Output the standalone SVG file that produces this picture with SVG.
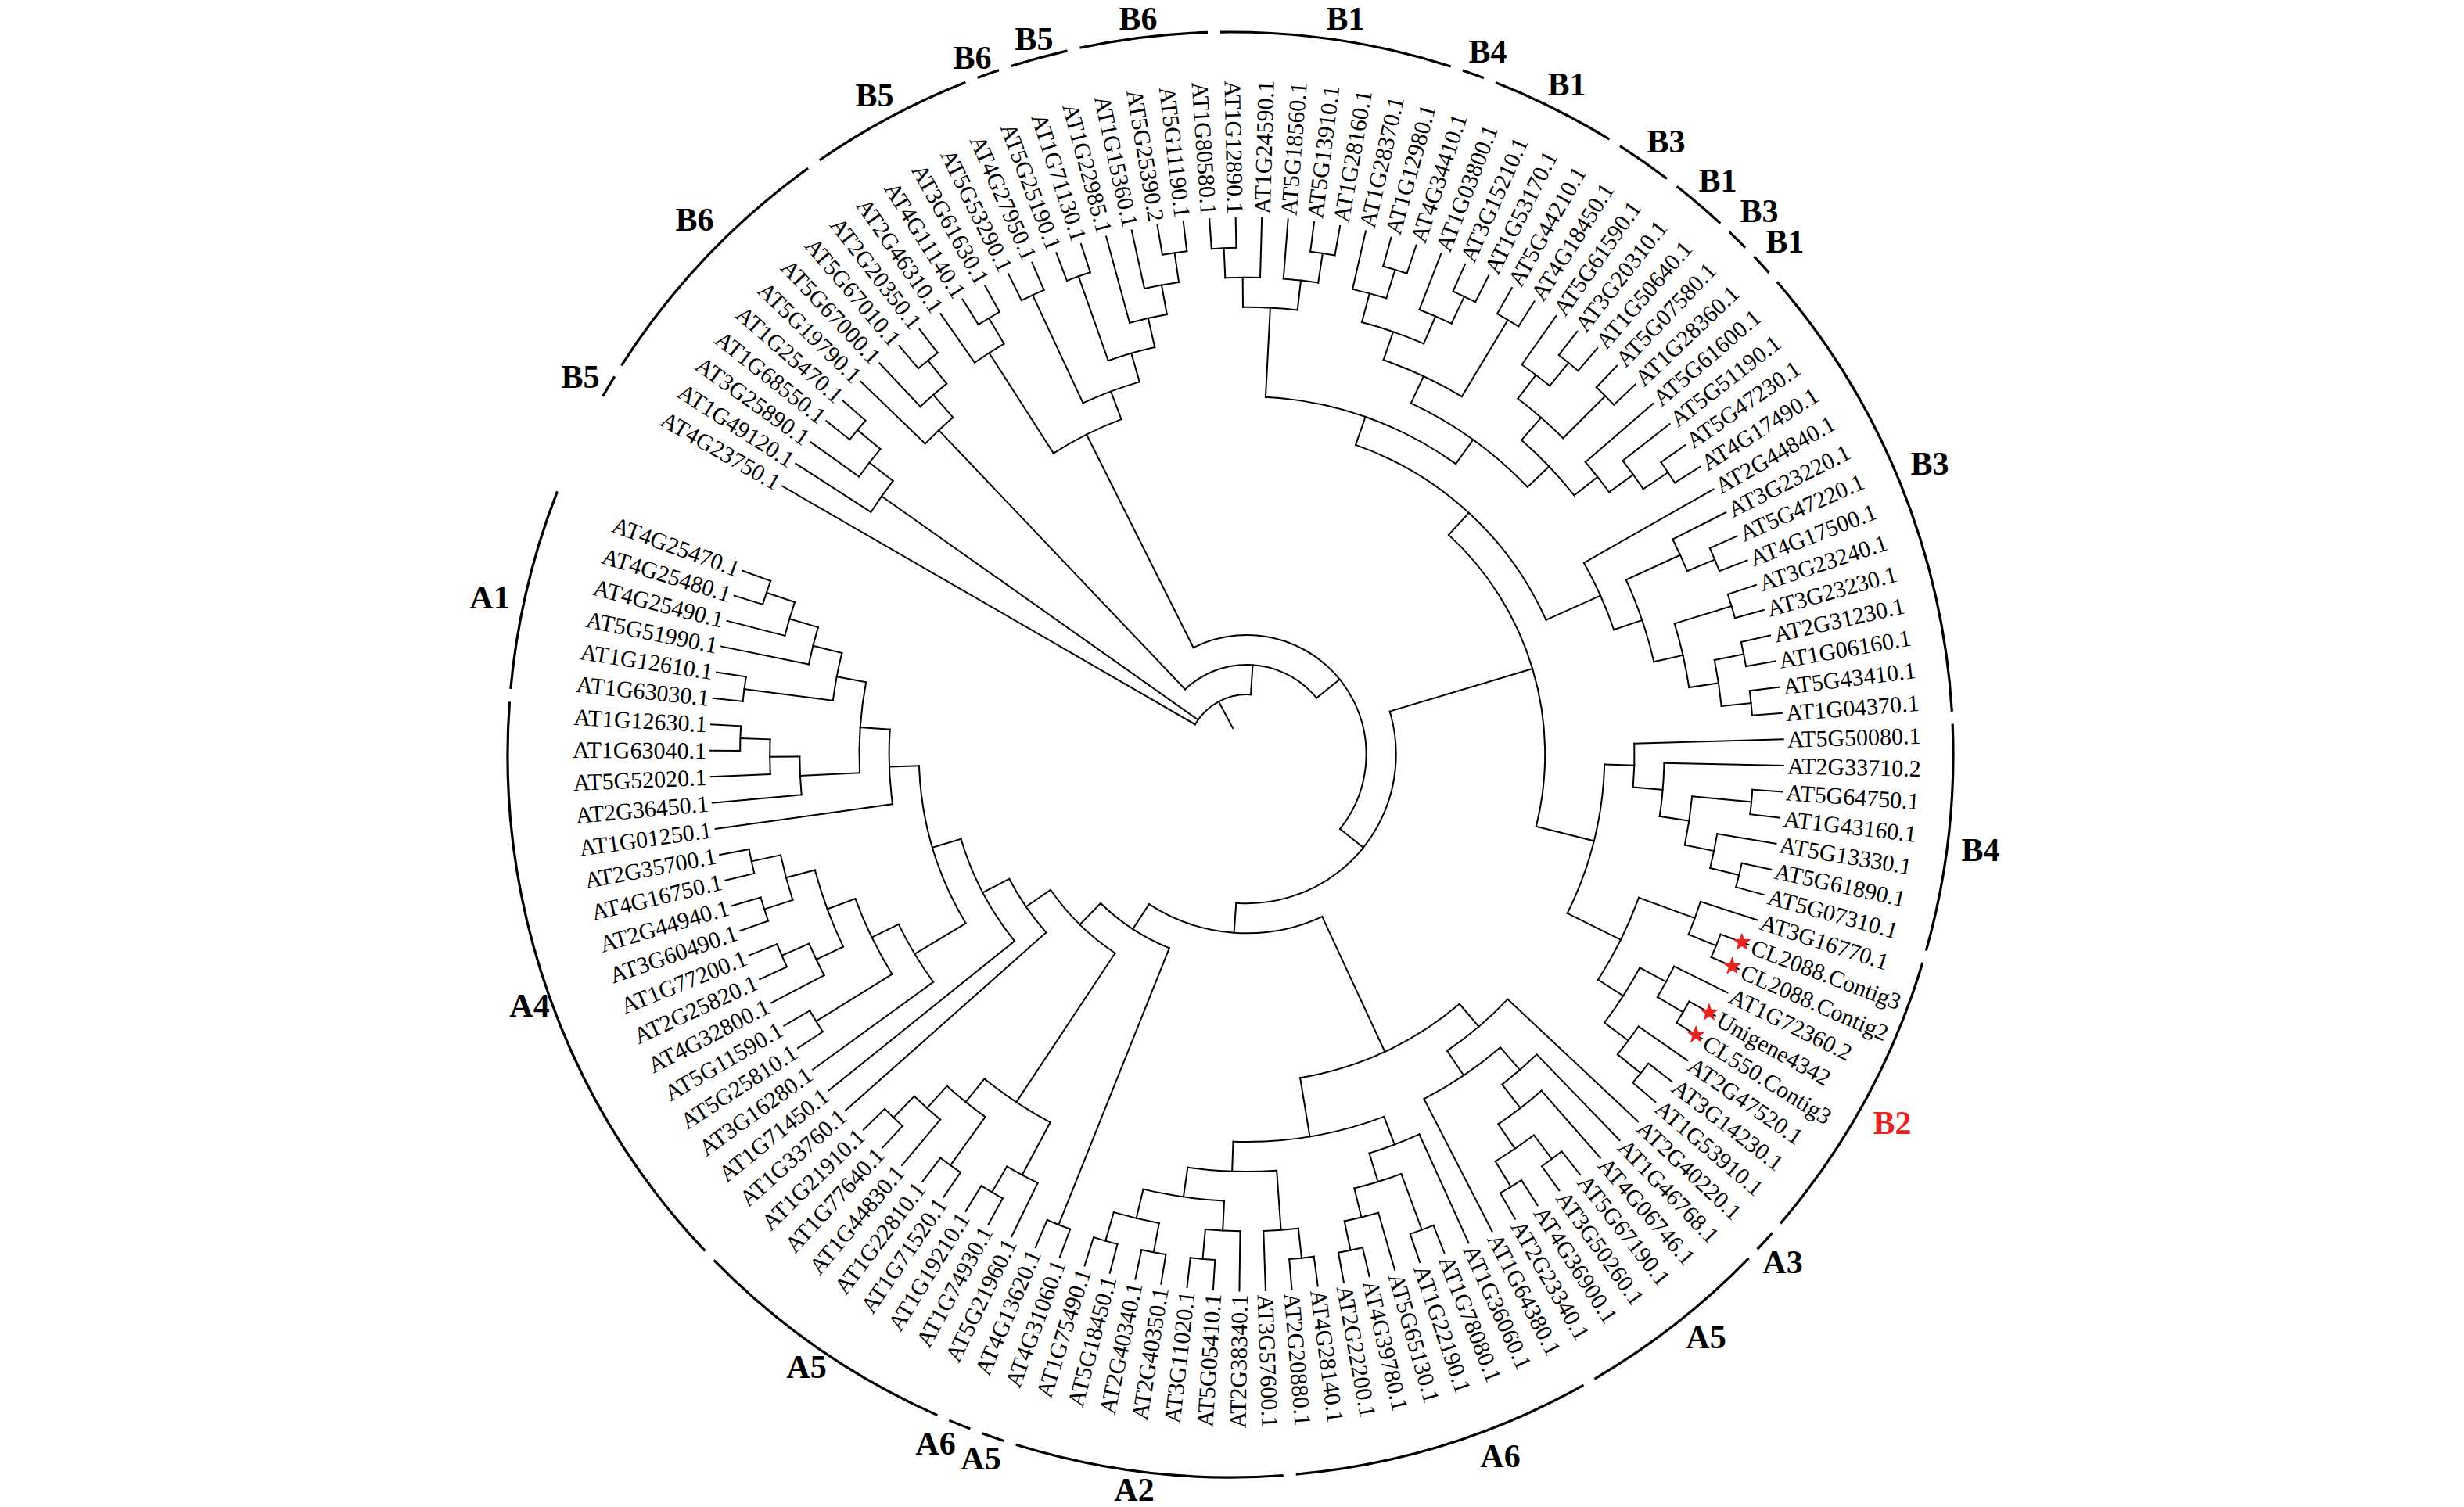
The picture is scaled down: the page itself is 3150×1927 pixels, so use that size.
<svg xmlns="http://www.w3.org/2000/svg" width="3150" height="1927" viewBox="0 0 3150 1927">
<defs>
<style>
#connectors line,#connectors circle{fill:none;stroke:#000;stroke-width:2;stroke-linecap:square}
.lf{font-family:"Liberation Serif","Times New Roman",serif;font-size:30px;fill:#000;dominant-baseline:central}
.e{text-anchor:end}
.rg{fill:none;stroke:#000;stroke-width:3.2}
.cl{font-family:"Liberation Serif","Times New Roman",serif;font-size:42px;font-weight:bold;text-anchor:middle;fill:#000}
.red{fill:#e52421}
</style>
<path id="star" d="M0,-12.5L2.94,-4.05L11.89,-3.86L4.76,1.55L7.35,10.11L0,5L-7.35,10.11L-4.76,1.55L-11.89,-3.86L-2.94,-4.05Z" fill="#e52421"/>
</defs>
<rect width="3150" height="1927" fill="#fff"/>
<g transform="translate(1594 964.5)">
<g id="connectors">
<circle r="647.9" transform="rotate(218.4)" stroke-dasharray="31.66 9999"/>
<circle r="647.9" transform="rotate(229.6)" stroke-dasharray="31.66 9999"/>
<circle r="647.9" transform="rotate(238)" stroke-dasharray="31.66 9999"/>
<circle r="647.9" transform="rotate(243.6)" stroke-dasharray="31.66 9999"/>
<circle r="647.9" transform="rotate(249.2)" stroke-dasharray="31.66 9999"/>
<circle r="647.9" transform="rotate(260.4)" stroke-dasharray="31.66 9999"/>
<circle r="647.9" transform="rotate(266)" stroke-dasharray="31.66 9999"/>
<circle r="647.9" transform="rotate(277.2)" stroke-dasharray="31.66 9999"/>
<circle r="647.9" transform="rotate(285.6)" stroke-dasharray="31.66 9999"/>
<circle r="647.9" transform="rotate(294)" stroke-dasharray="31.66 9999"/>
<circle r="647.9" transform="rotate(299.6)" stroke-dasharray="31.66 9999"/>
<circle r="647.9" transform="rotate(308)" stroke-dasharray="31.66 9999"/>
<circle r="647.9" transform="rotate(313.6)" stroke-dasharray="31.66 9999"/>
<circle r="647.9" transform="rotate(324.8)" stroke-dasharray="31.66 9999"/>
<circle r="647.9" transform="rotate(336)" stroke-dasharray="31.66 9999"/>
<circle r="647.9" transform="rotate(341.6)" stroke-dasharray="31.66 9999"/>
<circle r="647.9" transform="rotate(347.2)" stroke-dasharray="31.66 9999"/>
<circle r="647.9" transform="rotate(352.8)" stroke-dasharray="31.66 9999"/>
<circle r="647.9" transform="rotate(364)" stroke-dasharray="31.66 9999"/>
<circle r="647.9" transform="rotate(372.4)" stroke-dasharray="31.66 9999"/>
<circle r="647.9" transform="rotate(380.8)" stroke-dasharray="31.66 9999"/>
<circle r="647.9" transform="rotate(389.2)" stroke-dasharray="31.66 9999"/>
<circle r="647.9" transform="rotate(397.6)" stroke-dasharray="31.66 9999"/>
<circle r="647.9" transform="rotate(411.6)" stroke-dasharray="31.66 9999"/>
<circle r="647.9" transform="rotate(417.2)" stroke-dasharray="31.66 9999"/>
<circle r="647.9" transform="rotate(428.4)" stroke-dasharray="31.66 9999"/>
<circle r="647.9" transform="rotate(436.8)" stroke-dasharray="31.66 9999"/>
<circle r="647.9" transform="rotate(442.4)" stroke-dasharray="31.66 9999"/>
<circle r="647.9" transform="rotate(453.6)" stroke-dasharray="31.66 9999"/>
<circle r="647.9" transform="rotate(459.2)" stroke-dasharray="31.66 9999"/>
<circle r="647.9" transform="rotate(464.8)" stroke-dasharray="31.66 9999"/>
<circle r="647.9" transform="rotate(470.4)" stroke-dasharray="31.66 9999"/>
<circle r="647.9" transform="rotate(478.8)" stroke-dasharray="31.66 9999"/>
<circle r="647.9" transform="rotate(484.4)" stroke-dasharray="31.66 9999"/>
<circle r="647.9" transform="rotate(492.8)" stroke-dasharray="31.66 9999"/>
<circle r="647.9" transform="rotate(506.8)" stroke-dasharray="31.66 9999"/>
<circle r="647.9" transform="rotate(515.2)" stroke-dasharray="31.66 9999"/>
<circle r="647.9" transform="rotate(520.8)" stroke-dasharray="31.66 9999"/>
<circle r="647.9" transform="rotate(526.4)" stroke-dasharray="31.66 9999"/>
<circle r="647.9" transform="rotate(540.4)" stroke-dasharray="31.66 9999"/>
<circle r="647.9" transform="rotate(546)" stroke-dasharray="31.66 9999"/>
<circle r="647.9" transform="rotate(557.2)" stroke-dasharray="31.66 9999"/>
<circle r="609.8" transform="rotate(215.6)" stroke-dasharray="44.70 9999"/>
<circle r="609.8" transform="rotate(226.8)" stroke-dasharray="44.70 9999"/>
<circle r="609.8" transform="rotate(235.2)" stroke-dasharray="44.70 9999"/>
<circle r="609.8" transform="rotate(257.6)" stroke-dasharray="44.70 9999"/>
<circle r="609.8" transform="rotate(267.4)" stroke-dasharray="44.70 9999"/>
<circle r="609.8" transform="rotate(274.4)" stroke-dasharray="44.70 9999"/>
<circle r="609.8" transform="rotate(282.8)" stroke-dasharray="44.70 9999"/>
<circle r="609.8" transform="rotate(291.2)" stroke-dasharray="44.70 9999"/>
<circle r="609.8" transform="rotate(305.2)" stroke-dasharray="44.70 9999"/>
<circle r="609.8" transform="rotate(322)" stroke-dasharray="44.70 9999"/>
<circle r="609.8" transform="rotate(333.2)" stroke-dasharray="44.70 9999"/>
<circle r="609.8" transform="rotate(348.6)" stroke-dasharray="59.60 9999"/>
<circle r="609.8" transform="rotate(369.6)" stroke-dasharray="44.70 9999"/>
<circle r="609.8" transform="rotate(378)" stroke-dasharray="44.70 9999"/>
<circle r="609.8" transform="rotate(386.4)" stroke-dasharray="44.70 9999"/>
<circle r="609.8" transform="rotate(394.8)" stroke-dasharray="44.70 9999"/>
<circle r="609.8" transform="rotate(413)" stroke-dasharray="59.60 9999"/>
<circle r="609.8" transform="rotate(434)" stroke-dasharray="44.70 9999"/>
<circle r="609.8" transform="rotate(443.8)" stroke-dasharray="44.70 9999"/>
<circle r="609.8" transform="rotate(450.8)" stroke-dasharray="44.70 9999"/>
<circle r="609.8" transform="rotate(460.6)" stroke-dasharray="59.60 9999"/>
<circle r="609.8" transform="rotate(476)" stroke-dasharray="44.70 9999"/>
<circle r="609.8" transform="rotate(490)" stroke-dasharray="44.70 9999"/>
<circle r="609.8" transform="rotate(512.4)" stroke-dasharray="44.70 9999"/>
<circle r="609.8" transform="rotate(522.2)" stroke-dasharray="59.60 9999"/>
<circle r="609.8" transform="rotate(537.6)" stroke-dasharray="44.70 9999"/>
<circle r="609.8" transform="rotate(554.4)" stroke-dasharray="44.70 9999"/>
<circle r="571.7" transform="rotate(212.8)" stroke-dasharray="48.89 9999"/>
<circle r="571.7" transform="rotate(224)" stroke-dasharray="48.89 9999"/>
<circle r="571.7" transform="rotate(254.8)" stroke-dasharray="48.89 9999"/>
<circle r="571.7" transform="rotate(269.5)" stroke-dasharray="69.85 9999"/>
<circle r="571.7" transform="rotate(284.9)" stroke-dasharray="83.82 9999"/>
<circle r="571.7" transform="rotate(307.3)" stroke-dasharray="76.83 9999"/>
<circle r="571.7" transform="rotate(319.2)" stroke-dasharray="48.89 9999"/>
<circle r="571.7" transform="rotate(343)" stroke-dasharray="83.82 9999"/>
<circle r="571.7" transform="rotate(365.4)" stroke-dasharray="62.86 9999"/>
<circle r="571.7" transform="rotate(388.5)" stroke-dasharray="83.82 9999"/>
<circle r="571.7" transform="rotate(408.8)" stroke-dasharray="69.85 9999"/>
<circle r="571.7" transform="rotate(429.8)" stroke-dasharray="62.86 9999"/>
<circle r="571.7" transform="rotate(452.9)" stroke-dasharray="104.77 9999"/>
<circle r="571.7" transform="rotate(485.8)" stroke-dasharray="62.86 9999"/>
<circle r="571.7" transform="rotate(514.5)" stroke-dasharray="104.77 9999"/>
<circle r="571.7" transform="rotate(534.8)" stroke-dasharray="48.89 9999"/>
<circle r="571.7" transform="rotate(551.6)" stroke-dasharray="48.89 9999"/>
<circle r="533.6" transform="rotate(250.6)" stroke-dasharray="61.93 9999"/>
<circle r="533.6" transform="rotate(289.1)" stroke-dasharray="110.82 9999"/>
<circle r="533.6" transform="rotate(311.15)" stroke-dasharray="97.79 9999"/>
<circle r="533.6" transform="rotate(335.3)" stroke-dasharray="110.82 9999"/>
<circle r="533.6" transform="rotate(361.2)" stroke-dasharray="68.45 9999"/>
<circle r="533.6" transform="rotate(380.1)" stroke-dasharray="117.34 9999"/>
<circle r="533.6" transform="rotate(406)" stroke-dasharray="58.67 9999"/>
<circle r="533.6" transform="rotate(425.6)" stroke-dasharray="68.45 9999"/>
<circle r="533.6" transform="rotate(445.9)" stroke-dasharray="114.08 9999"/>
<circle r="533.6" transform="rotate(478.1)" stroke-dasharray="101.05 9999"/>
<circle r="533.6" transform="rotate(508.2)" stroke-dasharray="107.57 9999"/>
<circle r="533.6" transform="rotate(547.4)" stroke-dasharray="61.93 9999"/>
<circle r="495.5" transform="rotate(245)" stroke-dasharray="77.18 9999"/>
<circle r="495.5" transform="rotate(295.05)" stroke-dasharray="184.63 9999"/>
<circle r="495.5" transform="rotate(330.4)" stroke-dasharray="93.83 9999"/>
<circle r="495.5" transform="rotate(358.4)" stroke-dasharray="56.00 9999"/>
<circle r="495.5" transform="rotate(409.15)" stroke-dasharray="118.05 9999"/>
<circle r="495.5" transform="rotate(429.275)" stroke-dasharray="196.74 9999"/>
<circle r="495.5" transform="rotate(504)" stroke-dasharray="86.26 9999"/>
<circle r="495.5" transform="rotate(537.25)" stroke-dasharray="116.53 9999"/>
<circle r="457.4" transform="rotate(237.3)" stroke-dasharray="97.09 9999"/>
<circle r="457.4" transform="rotate(273)" stroke-dasharray="261.24 9999"/>
<circle r="457.4" transform="rotate(361.6375)" stroke-dasharray="197.68 9999"/>
<circle r="457.4" transform="rotate(403.2)" stroke-dasharray="101.98 9999"/>
<circle r="457.4" transform="rotate(532)" stroke-dasharray="95.75 9999"/>
<circle r="419.3" transform="rotate(289.3625)" stroke-dasharray="340.01 9999"/>
<circle r="419.3" transform="rotate(409.5875)" stroke-dasharray="227.31 9999"/>
<circle r="419.3" transform="rotate(508.9875)" stroke-dasharray="212.24 9999"/>
<circle r="381.2" transform="rotate(312.594)" stroke-dasharray="408.66 9999"/>
<circle r="381.2" transform="rotate(501.2)" stroke-dasharray="148.30 9999"/>
<circle r="343.1" transform="rotate(498.4)" stroke-dasharray="83.50 9999"/>
<circle r="305" transform="rotate(483.525)" stroke-dasharray="116.29 9999"/>
<circle r="266.9" transform="rotate(471.8)" stroke-dasharray="105.50 9999"/>
<circle r="228.8" transform="rotate(425.119)" stroke-dasharray="231.62 9999"/>
<circle r="190.7" transform="rotate(343.306)" stroke-dasharray="368.79 9999"/>
<circle r="152.6" transform="rotate(243.38)" stroke-dasharray="413.65 9999"/>
<circle r="114.5" transform="rotate(226.45)" stroke-dasharray="189.01 9999"/>
<circle r="76.4" transform="rotate(210)" stroke-dasharray="84.98 9999"/>
<line transform="rotate(219.8)" x1="609.8" x2="647.9"/>
<line transform="rotate(217.7)" x1="571.7" x2="609.8"/>
<line transform="rotate(215.25)" x1="76.4" x2="571.7"/>
<line transform="rotate(231)" x1="609.8" x2="647.9"/>
<line transform="rotate(228.9)" x1="571.7" x2="609.8"/>
<line transform="rotate(226.45)" x1="114.5" x2="571.7"/>
<line transform="rotate(239.4)" x1="609.8" x2="647.9"/>
<line transform="rotate(237.3)" x1="457.4" x2="609.8"/>
<line transform="rotate(245)" x1="495.5" x2="647.9"/>
<line transform="rotate(250.6)" x1="533.6" x2="647.9"/>
<line transform="rotate(261.8)" x1="609.8" x2="647.9"/>
<line transform="rotate(259.7)" x1="571.7" x2="609.8"/>
<line transform="rotate(257.25)" x1="533.6" x2="571.7"/>
<line transform="rotate(253.925)" x1="495.5" x2="533.6"/>
<line transform="rotate(249.4625)" x1="457.4" x2="495.5"/>
<line transform="rotate(243.38)" x1="152.6" x2="457.4"/>
<line transform="rotate(267.4)" x1="609.8" x2="647.9"/>
<line transform="rotate(269.5)" x1="571.7" x2="609.8"/>
<line transform="rotate(278.6)" x1="609.8" x2="647.9"/>
<line transform="rotate(276.5)" x1="571.7" x2="609.8"/>
<line transform="rotate(273)" x1="457.4" x2="571.7"/>
<line transform="rotate(287)" x1="609.8" x2="647.9"/>
<line transform="rotate(284.9)" x1="571.7" x2="609.8"/>
<line transform="rotate(295.4)" x1="609.8" x2="647.9"/>
<line transform="rotate(293.3)" x1="571.7" x2="609.8"/>
<line transform="rotate(289.1)" x1="533.6" x2="571.7"/>
<line transform="rotate(301)" x1="533.6" x2="647.9"/>
<line transform="rotate(295.05)" x1="495.5" x2="533.6"/>
<line transform="rotate(309.4)" x1="609.8" x2="647.9"/>
<line transform="rotate(307.3)" x1="571.7" x2="609.8"/>
<line transform="rotate(315)" x1="571.7" x2="647.9"/>
<line transform="rotate(311.15)" x1="533.6" x2="571.7"/>
<line transform="rotate(326.2)" x1="609.8" x2="647.9"/>
<line transform="rotate(324.1)" x1="571.7" x2="609.8"/>
<line transform="rotate(321.65)" x1="533.6" x2="571.7"/>
<line transform="rotate(316.4)" x1="495.5" x2="533.6"/>
<line transform="rotate(305.725)" x1="457.4" x2="495.5"/>
<line transform="rotate(289.3625)" x1="419.3" x2="457.4"/>
<line transform="rotate(337.4)" x1="609.8" x2="647.9"/>
<line transform="rotate(335.3)" x1="533.6" x2="609.8"/>
<line transform="rotate(343)" x1="571.7" x2="647.9"/>
<line transform="rotate(348.6)" x1="609.8" x2="647.9"/>
<line transform="rotate(354.2)" x1="609.8" x2="647.9"/>
<line transform="rotate(351.4)" x1="571.7" x2="609.8"/>
<line transform="rotate(347.2)" x1="533.6" x2="571.7"/>
<line transform="rotate(341.25)" x1="495.5" x2="533.6"/>
<line transform="rotate(335.825)" x1="419.3" x2="495.5"/>
<line transform="rotate(312.594)" x1="381.2" x2="419.3"/>
<line transform="rotate(365.4)" x1="571.7" x2="647.9"/>
<line transform="rotate(373.8)" x1="609.8" x2="647.9"/>
<line transform="rotate(371.7)" x1="571.7" x2="609.8"/>
<line transform="rotate(368.55)" x1="533.6" x2="571.7"/>
<line transform="rotate(364.875)" x1="495.5" x2="533.6"/>
<line transform="rotate(361.6375)" x1="457.4" x2="495.5"/>
<line transform="rotate(382.2)" x1="609.8" x2="647.9"/>
<line transform="rotate(380.1)" x1="533.6" x2="609.8"/>
<line transform="rotate(390.6)" x1="609.8" x2="647.9"/>
<line transform="rotate(388.5)" x1="571.7" x2="609.8"/>
<line transform="rotate(399)" x1="609.8" x2="647.9"/>
<line transform="rotate(396.9)" x1="571.7" x2="609.8"/>
<line transform="rotate(392.7)" x1="533.6" x2="571.7"/>
<line transform="rotate(386.4)" x1="457.4" x2="533.6"/>
<line transform="rotate(374.019)" x1="381.2" x2="457.4"/>
<line transform="rotate(343.306)" x1="190.7" x2="381.2"/>
<line transform="rotate(413)" x1="609.8" x2="647.9"/>
<line transform="rotate(418.6)" x1="609.8" x2="647.9"/>
<line transform="rotate(415.8)" x1="571.7" x2="609.8"/>
<line transform="rotate(412.3)" x1="533.6" x2="571.7"/>
<line transform="rotate(409.15)" x1="495.5" x2="533.6"/>
<line transform="rotate(415.975)" x1="457.4" x2="495.5"/>
<line transform="rotate(409.5875)" x1="419.3" x2="457.4"/>
<line transform="rotate(429.8)" x1="571.7" x2="647.9"/>
<line transform="rotate(438.2)" x1="609.8" x2="647.9"/>
<line transform="rotate(436.1)" x1="571.7" x2="609.8"/>
<line transform="rotate(432.95)" x1="533.6" x2="571.7"/>
<line transform="rotate(429.275)" x1="495.5" x2="533.6"/>
<line transform="rotate(443.8)" x1="609.8" x2="647.9"/>
<line transform="rotate(445.9)" x1="533.6" x2="609.8"/>
<line transform="rotate(455)" x1="609.8" x2="647.9"/>
<line transform="rotate(452.9)" x1="571.7" x2="609.8"/>
<line transform="rotate(460.6)" x1="609.8" x2="647.9"/>
<line transform="rotate(466.2)" x1="609.8" x2="647.9"/>
<line transform="rotate(463.4)" x1="571.7" x2="609.8"/>
<line transform="rotate(458.15)" x1="533.6" x2="571.7"/>
<line transform="rotate(452.025)" x1="495.5" x2="533.6"/>
<line transform="rotate(440.65)" x1="419.3" x2="495.5"/>
<line transform="rotate(425.119)" x1="228.8" x2="419.3"/>
<line transform="rotate(471.8)" x1="266.9" x2="647.9"/>
<line transform="rotate(480.2)" x1="609.8" x2="647.9"/>
<line transform="rotate(478.1)" x1="533.6" x2="609.8"/>
<line transform="rotate(485.8)" x1="571.7" x2="647.9"/>
<line transform="rotate(494.2)" x1="609.8" x2="647.9"/>
<line transform="rotate(492.1)" x1="571.7" x2="609.8"/>
<line transform="rotate(488.95)" x1="533.6" x2="571.7"/>
<line transform="rotate(483.525)" x1="305" x2="533.6"/>
<line transform="rotate(508.2)" x1="533.6" x2="647.9"/>
<line transform="rotate(516.6)" x1="609.8" x2="647.9"/>
<line transform="rotate(514.5)" x1="571.7" x2="609.8"/>
<line transform="rotate(522.2)" x1="609.8" x2="647.9"/>
<line transform="rotate(527.8)" x1="609.8" x2="647.9"/>
<line transform="rotate(525)" x1="571.7" x2="609.8"/>
<line transform="rotate(519.75)" x1="533.6" x2="571.7"/>
<line transform="rotate(513.975)" x1="495.5" x2="533.6"/>
<line transform="rotate(508.9875)" x1="419.3" x2="495.5"/>
<line transform="rotate(541.8)" x1="609.8" x2="647.9"/>
<line transform="rotate(539.7)" x1="571.7" x2="609.8"/>
<line transform="rotate(537.25)" x1="495.5" x2="571.7"/>
<line transform="rotate(547.4)" x1="533.6" x2="647.9"/>
<line transform="rotate(558.6)" x1="609.8" x2="647.9"/>
<line transform="rotate(556.5)" x1="571.7" x2="609.8"/>
<line transform="rotate(554.05)" x1="533.6" x2="571.7"/>
<line transform="rotate(550.725)" x1="495.5" x2="533.6"/>
<line transform="rotate(543.9875)" x1="457.4" x2="495.5"/>
<line transform="rotate(537.994)" x1="419.3" x2="457.4"/>
<line transform="rotate(523.491)" x1="381.2" x2="419.3"/>
<line transform="rotate(512.345)" x1="343.1" x2="381.2"/>
<line transform="rotate(505.373)" x1="305" x2="343.1"/>
<line transform="rotate(494.449)" x1="266.9" x2="305"/>
<line transform="rotate(483.124)" x1="228.8" x2="266.9"/>
<line transform="rotate(454.122)" x1="190.7" x2="228.8"/>
<line transform="rotate(398.714)" x1="152.6" x2="190.7"/>
<line transform="rotate(321.047)" x1="114.5" x2="152.6"/>
<line transform="rotate(273.749)" x1="76.4" x2="114.5"/>
<line transform="rotate(241.874)" x1="38" x2="76.4"/>
<line transform="rotate(210)" x1="76.4" x2="686"/>
<line transform="rotate(212.8)" x1="571.7" x2="686"/>
<line transform="rotate(215.6)" x1="609.8" x2="686"/>
<line transform="rotate(218.4)" x1="647.9" x2="686"/>
<line transform="rotate(221.2)" x1="647.9" x2="686"/>
<line transform="rotate(224)" x1="571.7" x2="686"/>
<line transform="rotate(226.8)" x1="609.8" x2="686"/>
<line transform="rotate(229.6)" x1="647.9" x2="686"/>
<line transform="rotate(232.4)" x1="647.9" x2="686"/>
<line transform="rotate(235.2)" x1="609.8" x2="686"/>
<line transform="rotate(238)" x1="647.9" x2="686"/>
<line transform="rotate(240.8)" x1="647.9" x2="686"/>
<line transform="rotate(243.6)" x1="647.9" x2="686"/>
<line transform="rotate(246.4)" x1="647.9" x2="686"/>
<line transform="rotate(249.2)" x1="647.9" x2="686"/>
<line transform="rotate(252)" x1="647.9" x2="686"/>
<line transform="rotate(254.8)" x1="571.7" x2="686"/>
<line transform="rotate(257.6)" x1="609.8" x2="686"/>
<line transform="rotate(260.4)" x1="647.9" x2="686"/>
<line transform="rotate(263.2)" x1="647.9" x2="686"/>
<line transform="rotate(266)" x1="647.9" x2="686"/>
<line transform="rotate(268.8)" x1="647.9" x2="686"/>
<line transform="rotate(271.6)" x1="609.8" x2="686"/>
<line transform="rotate(274.4)" x1="609.8" x2="686"/>
<line transform="rotate(277.2)" x1="647.9" x2="686"/>
<line transform="rotate(280)" x1="647.9" x2="686"/>
<line transform="rotate(282.8)" x1="609.8" x2="686"/>
<line transform="rotate(285.6)" x1="647.9" x2="686"/>
<line transform="rotate(288.4)" x1="647.9" x2="686"/>
<line transform="rotate(291.2)" x1="609.8" x2="686"/>
<line transform="rotate(294)" x1="647.9" x2="686"/>
<line transform="rotate(296.8)" x1="647.9" x2="686"/>
<line transform="rotate(299.6)" x1="647.9" x2="686"/>
<line transform="rotate(302.4)" x1="647.9" x2="686"/>
<line transform="rotate(305.2)" x1="609.8" x2="686"/>
<line transform="rotate(308)" x1="647.9" x2="686"/>
<line transform="rotate(310.8)" x1="647.9" x2="686"/>
<line transform="rotate(313.6)" x1="647.9" x2="686"/>
<line transform="rotate(316.4)" x1="647.9" x2="686"/>
<line transform="rotate(319.2)" x1="571.7" x2="686"/>
<line transform="rotate(322)" x1="609.8" x2="686"/>
<line transform="rotate(324.8)" x1="647.9" x2="686"/>
<line transform="rotate(327.6)" x1="647.9" x2="686"/>
<line transform="rotate(330.4)" x1="495.5" x2="686"/>
<line transform="rotate(333.2)" x1="609.8" x2="686"/>
<line transform="rotate(336)" x1="647.9" x2="686"/>
<line transform="rotate(338.8)" x1="647.9" x2="686"/>
<line transform="rotate(341.6)" x1="647.9" x2="686"/>
<line transform="rotate(344.4)" x1="647.9" x2="686"/>
<line transform="rotate(347.2)" x1="647.9" x2="686"/>
<line transform="rotate(350)" x1="647.9" x2="686"/>
<line transform="rotate(352.8)" x1="647.9" x2="686"/>
<line transform="rotate(355.6)" x1="647.9" x2="686"/>
<line transform="rotate(358.4)" x1="495.5" x2="686"/>
<line transform="rotate(361.2)" x1="533.6" x2="686"/>
<line transform="rotate(364)" x1="647.9" x2="686"/>
<line transform="rotate(366.8)" x1="647.9" x2="686"/>
<line transform="rotate(369.6)" x1="609.8" x2="686"/>
<line transform="rotate(372.4)" x1="647.9" x2="686"/>
<line transform="rotate(375.2)" x1="647.9" x2="686"/>
<line transform="rotate(378)" x1="609.8" x2="686"/>
<line transform="rotate(380.8)" x1="647.9" x2="686"/>
<line transform="rotate(383.6)" x1="647.9" x2="686"/>
<line transform="rotate(386.4)" x1="609.8" x2="686"/>
<line transform="rotate(389.2)" x1="647.9" x2="686"/>
<line transform="rotate(392)" x1="647.9" x2="686"/>
<line transform="rotate(394.8)" x1="609.8" x2="686"/>
<line transform="rotate(397.6)" x1="647.9" x2="686"/>
<line transform="rotate(400.4)" x1="647.9" x2="686"/>
<line transform="rotate(403.2)" x1="457.4" x2="686"/>
<line transform="rotate(406)" x1="533.6" x2="686"/>
<line transform="rotate(408.8)" x1="571.7" x2="686"/>
<line transform="rotate(411.6)" x1="647.9" x2="686"/>
<line transform="rotate(414.4)" x1="647.9" x2="686"/>
<line transform="rotate(417.2)" x1="647.9" x2="686"/>
<line transform="rotate(420)" x1="647.9" x2="686"/>
<line transform="rotate(422.8)" x1="495.5" x2="686"/>
<line transform="rotate(425.6)" x1="533.6" x2="686"/>
<line transform="rotate(428.4)" x1="647.9" x2="686"/>
<line transform="rotate(431.2)" x1="647.9" x2="686"/>
<line transform="rotate(434)" x1="609.8" x2="686"/>
<line transform="rotate(436.8)" x1="647.9" x2="686"/>
<line transform="rotate(439.6)" x1="647.9" x2="686"/>
<line transform="rotate(442.4)" x1="647.9" x2="686"/>
<line transform="rotate(445.2)" x1="647.9" x2="686"/>
<line transform="rotate(448)" x1="609.8" x2="686"/>
<line transform="rotate(450.8)" x1="609.8" x2="686"/>
<line transform="rotate(453.6)" x1="647.9" x2="686"/>
<line transform="rotate(456.4)" x1="647.9" x2="686"/>
<line transform="rotate(459.2)" x1="647.9" x2="686"/>
<line transform="rotate(462)" x1="647.9" x2="686"/>
<line transform="rotate(464.8)" x1="647.9" x2="686"/>
<line transform="rotate(467.6)" x1="647.9" x2="686"/>
<line transform="rotate(470.4)" x1="647.9" x2="686"/>
<line transform="rotate(473.2)" x1="647.9" x2="686"/>
<line transform="rotate(476)" x1="609.8" x2="686"/>
<line transform="rotate(478.8)" x1="647.9" x2="686"/>
<line transform="rotate(481.6)" x1="647.9" x2="686"/>
<line transform="rotate(484.4)" x1="647.9" x2="686"/>
<line transform="rotate(487.2)" x1="647.9" x2="686"/>
<line transform="rotate(490)" x1="609.8" x2="686"/>
<line transform="rotate(492.8)" x1="647.9" x2="686"/>
<line transform="rotate(495.6)" x1="647.9" x2="686"/>
<line transform="rotate(498.4)" x1="343.1" x2="686"/>
<line transform="rotate(501.2)" x1="381.2" x2="686"/>
<line transform="rotate(504)" x1="495.5" x2="686"/>
<line transform="rotate(506.8)" x1="647.9" x2="686"/>
<line transform="rotate(509.6)" x1="647.9" x2="686"/>
<line transform="rotate(512.4)" x1="609.8" x2="686"/>
<line transform="rotate(515.2)" x1="647.9" x2="686"/>
<line transform="rotate(518)" x1="647.9" x2="686"/>
<line transform="rotate(520.8)" x1="647.9" x2="686"/>
<line transform="rotate(523.6)" x1="647.9" x2="686"/>
<line transform="rotate(526.4)" x1="647.9" x2="686"/>
<line transform="rotate(529.2)" x1="647.9" x2="686"/>
<line transform="rotate(532)" x1="457.4" x2="686"/>
<line transform="rotate(534.8)" x1="571.7" x2="686"/>
<line transform="rotate(537.6)" x1="609.8" x2="686"/>
<line transform="rotate(540.4)" x1="647.9" x2="686"/>
<line transform="rotate(543.2)" x1="647.9" x2="686"/>
<line transform="rotate(546)" x1="647.9" x2="686"/>
<line transform="rotate(548.8)" x1="647.9" x2="686"/>
<line transform="rotate(551.6)" x1="571.7" x2="686"/>
<line transform="rotate(554.4)" x1="609.8" x2="686"/>
<line transform="rotate(557.2)" x1="647.9" x2="686"/>
<line transform="rotate(560)" x1="647.9" x2="686"/>
</g>
<g id="leaves">
<g id="n1"><text class="lf e" transform="rotate(30)" x="-691">AT4G23750.1</text></g>
<g id="n2"><text class="lf e" transform="rotate(32.8)" x="-691">AT1G49120.1</text></g>
<g id="n3"><text class="lf e" transform="rotate(35.6)" x="-691">AT3G25890.1</text></g>
<g id="n4"><text class="lf e" transform="rotate(38.4)" x="-691">AT1G68550.1</text></g>
<g id="n5"><text class="lf e" transform="rotate(41.2)" x="-691">AT1G25470.1</text></g>
<g id="n6"><text class="lf e" transform="rotate(44)" x="-691">AT5G19790.1</text></g>
<g id="n7"><text class="lf e" transform="rotate(46.8)" x="-691">AT5G67000.1</text></g>
<g id="n8"><text class="lf e" transform="rotate(49.6)" x="-691">AT5G67010.1</text></g>
<g id="n9"><text class="lf e" transform="rotate(52.4)" x="-691">AT2G20350.1</text></g>
<g id="n10"><text class="lf e" transform="rotate(55.2)" x="-691">AT2G46310.1</text></g>
<g id="n11"><text class="lf e" transform="rotate(58)" x="-691">AT4G11140.1</text></g>
<g id="n12"><text class="lf e" transform="rotate(60.8)" x="-691">AT3G61630.1</text></g>
<g id="n13"><text class="lf e" transform="rotate(63.6)" x="-691">AT5G53290.1</text></g>
<g id="n14"><text class="lf e" transform="rotate(66.4)" x="-691">AT4G27950.1</text></g>
<g id="n15"><text class="lf e" transform="rotate(69.2)" x="-691">AT5G25190.1</text></g>
<g id="n16"><text class="lf e" transform="rotate(72)" x="-691">AT1G71130.1</text></g>
<g id="n17"><text class="lf e" transform="rotate(74.8)" x="-691">AT1G22985.1</text></g>
<g id="n18"><text class="lf e" transform="rotate(77.6)" x="-691">AT1G15360.1</text></g>
<g id="n19"><text class="lf e" transform="rotate(80.4)" x="-691">AT5G25390.2</text></g>
<g id="n20"><text class="lf e" transform="rotate(83.2)" x="-691">AT5G11190.1</text></g>
<g id="n21"><text class="lf e" transform="rotate(86)" x="-691">AT1G80580.1</text></g>
<g id="n22"><text class="lf e" transform="rotate(88.8)" x="-691">AT1G12890.1</text></g>
<g id="n23"><text class="lf" transform="rotate(271.6)" x="691">AT1G24590.1</text></g>
<g id="n24"><text class="lf" transform="rotate(274.4)" x="691">AT5G18560.1</text></g>
<g id="n25"><text class="lf" transform="rotate(277.2)" x="691">AT5G13910.1</text></g>
<g id="n26"><text class="lf" transform="rotate(280)" x="691">AT1G28160.1</text></g>
<g id="n27"><text class="lf" transform="rotate(282.8)" x="691">AT1G28370.1</text></g>
<g id="n28"><text class="lf" transform="rotate(285.6)" x="691">AT1G12980.1</text></g>
<g id="n29"><text class="lf" transform="rotate(288.4)" x="691">AT4G34410.1</text></g>
<g id="n30"><text class="lf" transform="rotate(291.2)" x="691">AT1G03800.1</text></g>
<g id="n31"><text class="lf" transform="rotate(294)" x="691">AT3G15210.1</text></g>
<g id="n32"><text class="lf" transform="rotate(296.8)" x="691">AT1G53170.1</text></g>
<g id="n33"><text class="lf" transform="rotate(299.6)" x="691">AT5G44210.1</text></g>
<g id="n34"><text class="lf" transform="rotate(302.4)" x="691">AT4G18450.1</text></g>
<g id="n35"><text class="lf" transform="rotate(305.2)" x="691">AT5G61590.1</text></g>
<g id="n36"><text class="lf" transform="rotate(308)" x="691">AT3G20310.1</text></g>
<g id="n37"><text class="lf" transform="rotate(310.8)" x="691">AT1G50640.1</text></g>
<g id="n38"><text class="lf" transform="rotate(313.6)" x="691">AT5G07580.1</text></g>
<g id="n39"><text class="lf" transform="rotate(316.4)" x="691">AT1G28360.1</text></g>
<g id="n40"><text class="lf" transform="rotate(319.2)" x="691">AT5G61600.1</text></g>
<g id="n41"><text class="lf" transform="rotate(322)" x="691">AT5G51190.1</text></g>
<g id="n42"><text class="lf" transform="rotate(324.8)" x="691">AT5G47230.1</text></g>
<g id="n43"><text class="lf" transform="rotate(327.6)" x="691">AT4G17490.1</text></g>
<g id="n44"><text class="lf" transform="rotate(330.4)" x="691">AT2G44840.1</text></g>
<g id="n45"><text class="lf" transform="rotate(333.2)" x="691">AT3G23220.1</text></g>
<g id="n46"><text class="lf" transform="rotate(336)" x="691">AT5G47220.1</text></g>
<g id="n47"><text class="lf" transform="rotate(338.8)" x="691">AT4G17500.1</text></g>
<g id="n48"><text class="lf" transform="rotate(341.6)" x="691">AT3G23240.1</text></g>
<g id="n49"><text class="lf" transform="rotate(344.4)" x="691">AT3G23230.1</text></g>
<g id="n50"><text class="lf" transform="rotate(347.2)" x="691">AT2G31230.1</text></g>
<g id="n51"><text class="lf" transform="rotate(350)" x="691">AT1G06160.1</text></g>
<g id="n52"><text class="lf" transform="rotate(352.8)" x="691">AT5G43410.1</text></g>
<g id="n53"><text class="lf" transform="rotate(355.6)" x="691">AT1G04370.1</text></g>
<g id="n54"><text class="lf" transform="rotate(358.4)" x="691">AT5G50080.1</text></g>
<g id="n55"><text class="lf" transform="rotate(361.2)" x="691">AT2G33710.2</text></g>
<g id="n56"><text class="lf" transform="rotate(364)" x="691">AT5G64750.1</text></g>
<g id="n57"><text class="lf" transform="rotate(366.8)" x="691">AT1G43160.1</text></g>
<g id="n58"><text class="lf" transform="rotate(369.6)" x="691">AT5G13330.1</text></g>
<g id="n59"><text class="lf" transform="rotate(372.4)" x="691">AT5G61890.1</text></g>
<g id="n60"><text class="lf" transform="rotate(375.2)" x="691">AT5G07310.1</text></g>
<g id="n61"><text class="lf" transform="rotate(378)" x="691">AT3G16770.1</text></g>
<g id="n62"><use href="#star" transform="rotate(380.8) translate(677 0) rotate(-380.8)"/><text class="lf" transform="rotate(380.8)" x="691">CL2088.Contig3</text></g>
<g id="n63"><use href="#star" transform="rotate(383.6) translate(677 0) rotate(-383.6)"/><text class="lf" transform="rotate(383.6)" x="691">CL2088.Contig2</text></g>
<g id="n64"><text class="lf" transform="rotate(386.4)" x="691">AT1G72360.2</text></g>
<g id="n65"><use href="#star" transform="rotate(389.2) translate(677 0) rotate(-389.2)"/><text class="lf" transform="rotate(389.2)" x="691">Unigene4342</text></g>
<g id="n66"><use href="#star" transform="rotate(392) translate(677 0) rotate(-392)"/><text class="lf" transform="rotate(392)" x="691">CL550.Contig3</text></g>
<g id="n67"><text class="lf" transform="rotate(394.8)" x="691">AT2G47520.1</text></g>
<g id="n68"><text class="lf" transform="rotate(397.6)" x="691">AT3G14230.1</text></g>
<g id="n69"><text class="lf" transform="rotate(400.4)" x="691">AT1G53910.1</text></g>
<g id="n70"><text class="lf" transform="rotate(403.2)" x="691">AT2G40220.1</text></g>
<g id="n71"><text class="lf" transform="rotate(406)" x="691">AT1G46768.1</text></g>
<g id="n72"><text class="lf" transform="rotate(408.8)" x="691">AT4G06746.1</text></g>
<g id="n73"><text class="lf" transform="rotate(411.6)" x="691">AT5G67190.1</text></g>
<g id="n74"><text class="lf" transform="rotate(414.4)" x="691">AT3G50260.1</text></g>
<g id="n75"><text class="lf" transform="rotate(417.2)" x="691">AT4G36900.1</text></g>
<g id="n76"><text class="lf" transform="rotate(420)" x="691">AT2G23340.1</text></g>
<g id="n77"><text class="lf" transform="rotate(422.8)" x="691">AT1G64380.1</text></g>
<g id="n78"><text class="lf" transform="rotate(425.6)" x="691">AT1G36060.1</text></g>
<g id="n79"><text class="lf" transform="rotate(428.4)" x="691">AT1G78080.1</text></g>
<g id="n80"><text class="lf" transform="rotate(431.2)" x="691">AT1G22190.1</text></g>
<g id="n81"><text class="lf" transform="rotate(434)" x="691">AT5G65130.1</text></g>
<g id="n82"><text class="lf" transform="rotate(436.8)" x="691">AT4G39780.1</text></g>
<g id="n83"><text class="lf" transform="rotate(439.6)" x="691">AT2G22200.1</text></g>
<g id="n84"><text class="lf" transform="rotate(442.4)" x="691">AT4G28140.1</text></g>
<g id="n85"><text class="lf" transform="rotate(445.2)" x="691">AT2G20880.1</text></g>
<g id="n86"><text class="lf" transform="rotate(448)" x="691">AT3G57600.1</text></g>
<g id="n87"><text class="lf e" transform="rotate(270.8)" x="-691">AT2G38340.1</text></g>
<g id="n88"><text class="lf e" transform="rotate(273.6)" x="-691">AT5G05410.1</text></g>
<g id="n89"><text class="lf e" transform="rotate(276.4)" x="-691">AT3G11020.1</text></g>
<g id="n90"><text class="lf e" transform="rotate(279.2)" x="-691">AT2G40350.1</text></g>
<g id="n91"><text class="lf e" transform="rotate(282)" x="-691">AT2G40340.1</text></g>
<g id="n92"><text class="lf e" transform="rotate(284.8)" x="-691">AT5G18450.1</text></g>
<g id="n93"><text class="lf e" transform="rotate(287.6)" x="-691">AT1G75490.1</text></g>
<g id="n94"><text class="lf e" transform="rotate(290.4)" x="-691">AT4G31060.1</text></g>
<g id="n95"><text class="lf e" transform="rotate(293.2)" x="-691">AT4G13620.1</text></g>
<g id="n96"><text class="lf e" transform="rotate(296)" x="-691">AT5G21960.1</text></g>
<g id="n97"><text class="lf e" transform="rotate(298.8)" x="-691">AT1G74930.1</text></g>
<g id="n98"><text class="lf e" transform="rotate(301.6)" x="-691">AT1G19210.1</text></g>
<g id="n99"><text class="lf e" transform="rotate(304.4)" x="-691">AT1G71520.1</text></g>
<g id="n100"><text class="lf e" transform="rotate(307.2)" x="-691">AT1G22810.1</text></g>
<g id="n101"><text class="lf e" transform="rotate(310)" x="-691">AT1G44830.1</text></g>
<g id="n102"><text class="lf e" transform="rotate(312.8)" x="-691">AT1G77640.1</text></g>
<g id="n103"><text class="lf e" transform="rotate(315.6)" x="-691">AT1G21910.1</text></g>
<g id="n104"><text class="lf e" transform="rotate(318.4)" x="-691">AT1G33760.1</text></g>
<g id="n105"><text class="lf e" transform="rotate(321.2)" x="-691">AT1G71450.1</text></g>
<g id="n106"><text class="lf e" transform="rotate(324)" x="-691">AT3G16280.1</text></g>
<g id="n107"><text class="lf e" transform="rotate(326.8)" x="-691">AT5G25810.1</text></g>
<g id="n108"><text class="lf e" transform="rotate(329.6)" x="-691">AT5G11590.1</text></g>
<g id="n109"><text class="lf e" transform="rotate(332.4)" x="-691">AT4G32800.1</text></g>
<g id="n110"><text class="lf e" transform="rotate(335.2)" x="-691">AT2G25820.1</text></g>
<g id="n111"><text class="lf e" transform="rotate(338)" x="-691">AT1G77200.1</text></g>
<g id="n112"><text class="lf e" transform="rotate(340.8)" x="-691">AT3G60490.1</text></g>
<g id="n113"><text class="lf e" transform="rotate(343.6)" x="-691">AT2G44940.1</text></g>
<g id="n114"><text class="lf e" transform="rotate(346.4)" x="-691">AT4G16750.1</text></g>
<g id="n115"><text class="lf e" transform="rotate(349.2)" x="-691">AT2G35700.1</text></g>
<g id="n116"><text class="lf e" transform="rotate(352)" x="-691">AT1G01250.1</text></g>
<g id="n117"><text class="lf e" transform="rotate(354.8)" x="-691">AT2G36450.1</text></g>
<g id="n118"><text class="lf e" transform="rotate(357.6)" x="-691">AT5G52020.1</text></g>
<g id="n119"><text class="lf e" transform="rotate(360.4)" x="-691">AT1G63040.1</text></g>
<g id="n120"><text class="lf e" transform="rotate(363.2)" x="-691">AT1G12630.1</text></g>
<g id="n121"><text class="lf e" transform="rotate(366)" x="-691">AT1G63030.1</text></g>
<g id="n122"><text class="lf e" transform="rotate(368.8)" x="-691">AT1G12610.1</text></g>
<g id="n123"><text class="lf e" transform="rotate(371.6)" x="-691">AT5G51990.1</text></g>
<g id="n124"><text class="lf e" transform="rotate(374.4)" x="-691">AT4G25490.1</text></g>
<g id="n125"><text class="lf e" transform="rotate(377.2)" x="-691">AT4G25480.1</text></g>
<g id="n126"><text class="lf e" transform="rotate(380)" x="-691">AT4G25470.1</text></g>
</g>
</g>
<g id="clades">
<g transform="translate(1573 965)">
<circle class="rg" r="924" transform="rotate(209.73)" stroke-dasharray="29.67 9999"/>
<circle class="rg" r="924" transform="rotate(212.59)" stroke-dasharray="349.31 9999"/>
<circle class="rg" r="924" transform="rotate(235.36)" stroke-dasharray="211.91 9999"/>
<circle class="rg" r="924" transform="rotate(249.51)" stroke-dasharray="29.19 9999"/>
<circle class="rg" r="924" transform="rotate(252.33)" stroke-dasharray="74.67 9999"/>
<circle class="rg" r="924" transform="rotate(257.97)" stroke-dasharray="164.98 9999"/>
<circle class="rg" r="924" transform="rotate(269.2)" stroke-dasharray="299.16 9999"/>
<circle class="rg" r="924" transform="rotate(288.74)" stroke-dasharray="28.87 9999"/>
<circle class="rg" r="924" transform="rotate(291.52)" stroke-dasharray="162.88 9999"/>
<circle class="rg" r="924" transform="rotate(302.61)" stroke-dasharray="73.22 9999"/>
<circle class="rg" r="924" transform="rotate(308.14)" stroke-dasharray="73.06 9999"/>
<circle class="rg" r="924" transform="rotate(313.66)" stroke-dasharray="28.55 9999"/>
<circle class="rg" r="924" transform="rotate(316.41)" stroke-dasharray="28.55 9999"/>
<circle class="rg" r="924" transform="rotate(319.12)" stroke-dasharray="604.12 9999"/>
<circle class="rg" r="924" transform="rotate(357.56)" stroke-dasharray="293.19 9999"/>
<circle class="rg" r="924" transform="rotate(376.72)" stroke-dasharray="382.53 9999"/>
<circle class="rg" r="924" transform="rotate(401.43)" stroke-dasharray="28.55 9999"/>
<circle class="rg" r="924" transform="rotate(404.18)" stroke-dasharray="251.26 9999"/>
<circle class="rg" r="924" transform="rotate(420.75)" stroke-dasharray="387.85 9999"/>
<circle class="rg" r="924" transform="rotate(445.8)" stroke-dasharray="346.25 9999"/>
<circle class="rg" r="924" transform="rotate(468.27)" stroke-dasharray="29.35 9999"/>
<circle class="rg" r="924" transform="rotate(471.1)" stroke-dasharray="29.19 9999"/>
<circle class="rg" r="924" transform="rotate(473.92)" stroke-dasharray="349.8 9999"/>
<circle class="rg" r="924" transform="rotate(496.62)" stroke-dasharray="767.16 9999"/>
<circle class="rg" r="924" transform="rotate(545.22)" stroke-dasharray="260.29 9999"/>
</g>
<g id="lab-B5a"><text class="cl" x="742" y="496">B5</text></g>
<g id="lab-B6a"><text class="cl" x="888" y="295">B6</text></g>
<g id="lab-B5b"><text class="cl" x="1118" y="136">B5</text></g>
<g id="lab-B6b"><text class="cl" x="1243" y="88">B6</text></g>
<g id="lab-B5c"><text class="cl" x="1322" y="64">B5</text></g>
<g id="lab-B6c"><text class="cl" x="1455" y="38">B6</text></g>
<g id="lab-B1a"><text class="cl" x="1720" y="38">B1</text></g>
<g id="lab-B4a"><text class="cl" x="1902" y="80">B4</text></g>
<g id="lab-B1b"><text class="cl" x="2003" y="122">B1</text></g>
<g id="lab-B3a"><text class="cl" x="2130" y="195">B3</text></g>
<g id="lab-B1c"><text class="cl" x="2196" y="245">B1</text></g>
<g id="lab-B3b"><text class="cl" x="2249" y="284">B3</text></g>
<g id="lab-B1d"><text class="cl" x="2282" y="323">B1</text></g>
<g id="lab-B3c"><text class="cl" x="2467" y="607">B3</text></g>
<g id="lab-B4b"><text class="cl" x="2532" y="1101">B4</text></g>
<g id="lab-B2"><text class="cl red" x="2419" y="1450">B2</text></g>
<g id="lab-A3"><text class="cl" x="2279" y="1628">A3</text></g>
<g id="lab-A5a"><text class="cl" x="2181" y="1724">A5</text></g>
<g id="lab-A6a"><text class="cl" x="1918" y="1876">A6</text></g>
<g id="lab-A2"><text class="cl" x="1450" y="1919">A2</text></g>
<g id="lab-A5b"><text class="cl" x="1254" y="1879">A5</text></g>
<g id="lab-A6b"><text class="cl" x="1196" y="1860">A6</text></g>
<g id="lab-A5c"><text class="cl" x="1031" y="1762">A5</text></g>
<g id="lab-A4"><text class="cl" x="677" y="1300">A4</text></g>
<g id="lab-A1"><text class="cl" x="626" y="778">A1</text></g>
</g>
</svg>
